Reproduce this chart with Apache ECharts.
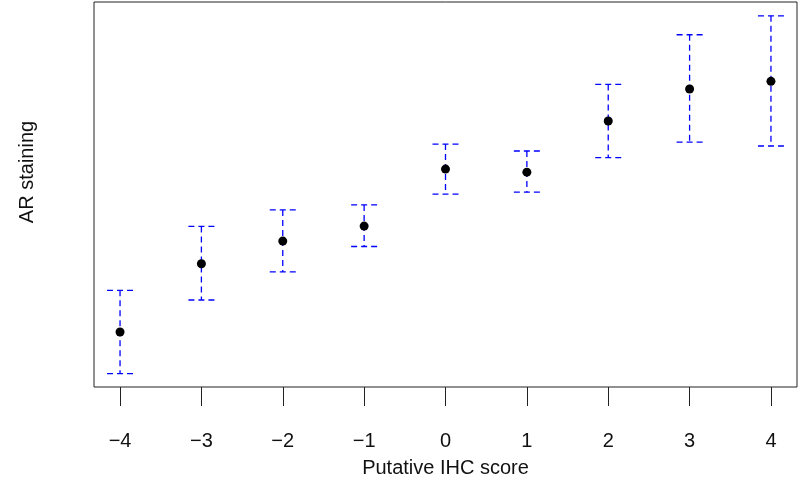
<!DOCTYPE html>
<html>
<head>
<meta charset="utf-8">
<script src="https://cdn.jsdelivr.net/npm/echarts@6/dist/echarts.min.js"></script>
<style>
html,body{margin:0;padding:0;background:#fff;}
#chart{width:800px;height:483px;}
</style>
</head>
<body>
<div id="chart"></div>
<script>
// IHC score categories (x positions)
const scores = [-4, -3, -2, -1, 0, 1, 2, 3, 4];
// AR staining (arbitrary units, y axis unlabeled in the reference)
const meanVals  = [14.3, 32.0, 37.9, 41.8, 56.6, 55.8, 69.1, 77.4, 79.4];
const lowerVals = [3.5, 22.6, 29.9, 36.5, 50.1, 50.6, 59.6, 63.6, 62.6];
const upperVals = [25.1, 41.7, 46.0, 47.3, 63.1, 61.3, 78.6, 91.5, 96.4];
const xTicks = [-4, -3, -2, -1, 0, 1, 2, 3, 4];
const xTitle = 'Putative IHC score';
const yTitle = 'AR staining';

const chart = echarts.init(document.getElementById('chart'), null, {renderer: 'canvas'});
const FONT = '"Liberation Sans", Arial, Helvetica, sans-serif';

const barData = scores.map((s, i) => [s, lowerVals[i], upperVals[i]]);
const ptData = scores.map((s, i) => [s, meanVals[i]]);

const option = {
  backgroundColor: '#ffffff',
  animation: false,
  grid: {
    left: 94, right: 3, top: 2, bottom: 96,
    show: true, borderColor: '#222', borderWidth: 1, backgroundColor: 'transparent'
  },
  graphic: [{
    type: 'text',
    x: 27, y: 172,
    rotation: Math.PI / 2,
    style: {
      text: yTitle, fontSize: 20, fontFamily: FONT, fill: '#111',
      align: 'center', verticalAlign: 'middle'
    }
  }],
  xAxis: {
    type: 'value',
    min: -4.32, max: 4.32,
    axisLine: {show: false},
    splitLine: {show: false},
    axisTick: {show: true, customValues: xTicks, length: 19, lineStyle: {color: '#222', width: 1}},
    axisLabel: {
      customValues: xTicks,
      margin: 44,
      fontSize: 20,
      fontFamily: FONT,
      color: '#111',
      formatter: v => (v < 0 ? '\u2212' + Math.abs(v) : String(v))
    },
    name: xTitle,
    nameLocation: 'middle',
    nameGap: 71,
    nameTextStyle: {fontSize: 20, fontFamily: FONT, color: '#111'}
  },
  yAxis: {
    type: 'value',
    min: 0, max: 100,
    axisLine: {show: false},
    axisTick: {show: false},
    axisLabel: {show: false},
    splitLine: {show: false}
  },
  series: [
    {
      type: 'custom',
      data: barData,
      z: 2,
      renderItem: function (params, api) {
        const x = api.value(0);
        const pLo = api.coord([x, api.value(1)]);
        const pHi = api.coord([x, api.value(2)]);
        const hw = 13;
        const st = {stroke: '#0000ff', lineWidth: 1.3, lineDash: [6, 4], fill: null};
        return {
          type: 'group',
          children: [
            {type: 'line', shape: {x1: pHi[0], y1: pHi[1], x2: pLo[0], y2: pLo[1]}, style: st},
            {type: 'line', shape: {x1: pHi[0] - hw, y1: pHi[1], x2: pHi[0] + hw, y2: pHi[1]}, style: st},
            {type: 'line', shape: {x1: pLo[0] - hw, y1: pLo[1], x2: pLo[0] + hw, y2: pLo[1]}, style: st}
          ]
        };
      }
    },
    {
      type: 'scatter',
      data: ptData,
      z: 3,
      symbol: 'circle',
      symbolSize: 9,
      itemStyle: {color: '#000', opacity: 1}
    }
  ]
};
chart.setOption(option);
</script>
</body>
</html>
